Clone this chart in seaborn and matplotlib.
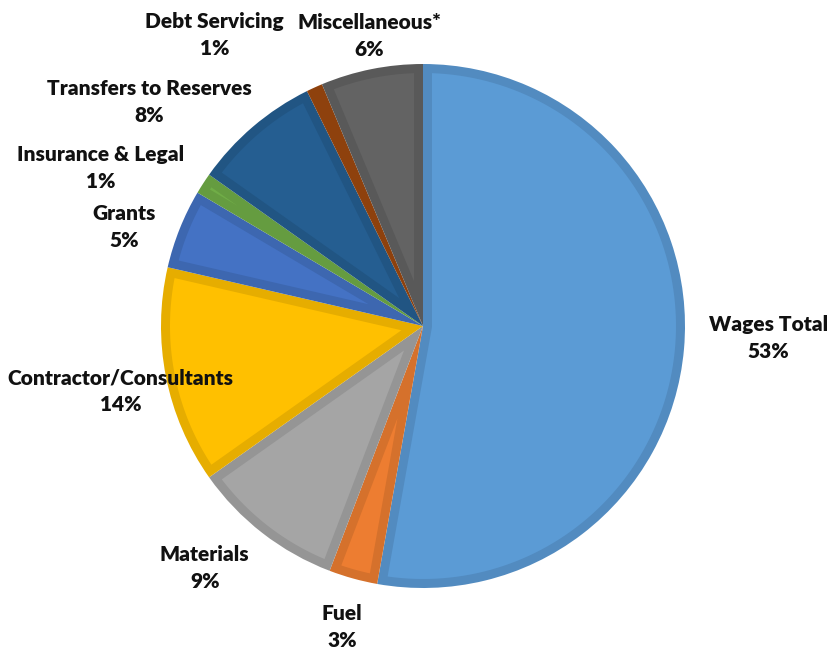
import numpy as np
import matplotlib
matplotlib.use("Agg")
import matplotlib.pyplot as plt
import matplotlib.colors as mcolors
from matplotlib.patches import Polygon
import seaborn as sns

# expense categories, clockwise from 12 o'clock
categories = ["Wages Total", "Fuel", "Materials", "Contractor/Consultants", "Grants",
              "Insurance & Legal", "Transfers to Reserves", "Debt Servicing", "Miscellaneous*"]
shares = [52.8, 3.0, 9.4, 13.4, 4.9, 1.3, 7.9, 1.0, 6.3]
pct_labels = ["53%", "3%", "9%", "14%", "5%", "1%", "8%", "1%", "6%"]
colors = ["#5B9BD5", "#ED7D31", "#A5A5A5", "#FFC000", "#4472C4",
          "#70AD47", "#255E91", "#9E480E", "#636363"]

# label placement (polar, around pie centre): angle in degrees, radius in pie radii
label_angle = [-2, -105, -132, -167.8, 161.7, 153.8, 140.7, 125.6, 100.5]
label_r = [1.32, 1.19, 1.245, 1.18, 1.2, 1.37, 1.35, 1.365, 1.125]

sns.set_theme(style="white")
plt.rcParams["font.family"] = ["Lato", "DejaVu Sans"]

fig = plt.figure(figsize=(8.32, 6.52), dpi=100)
ax = fig.add_axes([0, 0, 1, 1])

cx, cy, R = 423, 326, 262
border = 9
edge_cols = [tuple(np.array(mcolors.to_rgb(c)) * 0.9) for c in colors]

# base pie in the darker border shade
wedges, _ = ax.pie(shares, colors=edge_cols, startangle=90, counterclock=False,
                   center=(cx, cy), radius=R, frame=True,
                   wedgeprops=dict(linewidth=0))

# lighter inner face of each slice, inset by the border width
for w, col in zip(wedges, colors):
    t1, t2 = np.deg2rad(w.theta1), np.deg2rad(w.theta2)
    half = (t2 - t1) / 2
    shift = border / np.sin(half) if half < np.pi / 2 else border / np.sin(np.pi - half)
    rin = R - border
    if shift >= rin * 0.9:
        continue
    mid = (t1 + t2) / 2
    apex = (cx + shift * np.cos(mid), cy + shift * np.sin(mid))
    da = np.arcsin(border / rin)
    th = np.linspace(t1 + da, t2 - da, 120)
    pts = [apex] + list(zip(cx + rin * np.cos(th), cy + rin * np.sin(th)))
    ax.add_patch(Polygon(pts, closed=True, facecolor=col, edgecolor="none"))

ax.set_xlim(0, 832)
ax.set_ylim(0, 652)
ax.set_aspect("equal")
ax.axis("off")

for name, pct, a, r in zip(categories, pct_labels, label_angle, label_r):
    t = np.deg2rad(a)
    ax.text(cx + r * R * np.cos(t), cy + r * R * np.sin(t), f"{name}\n{pct}",
            ha="center", va="center", fontsize=15, fontweight="heavy",
            color="#111111", linespacing=1.5)

fig.savefig("out.png", dpi=100)
